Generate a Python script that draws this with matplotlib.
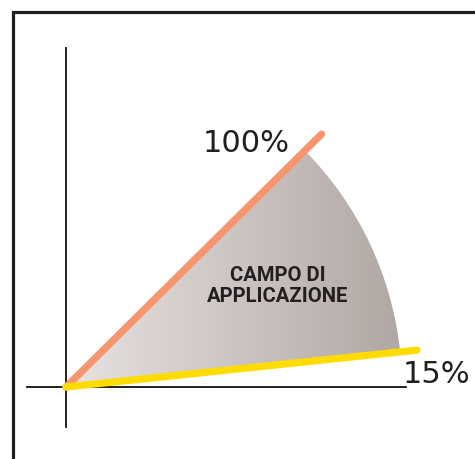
import numpy as np
import matplotlib.pyplot as plt
from matplotlib.patches import Wedge, Rectangle

# chart content
limit_labels = ['100%', '15%']
limit_angles = [44.7, 6.0]        # degrees from the horizontal axis
limit_lengths = [1.07, 1.05]      # relative to the field radius
limit_colors = ['#f6956e', '#ffdc00']
field_label = 'CAMPO DI\nAPPLICAZIONE'
field_radius = 1.0

W, H = 475, 459
ox, oy = 66, 387   # origin in pixels
r_px = 336.0

fig = plt.figure(figsize=(W / 100, H / 100), dpi=100)
ax = fig.add_axes([0, 0, 1, 1])
ax.set_xlim(-ox / r_px, (W - ox) / r_px)
ax.set_ylim(-(H - oy) / r_px, oy / r_px)
ax.axis('off')

# outer frame (only top and left edges visible)
fig.patches.append(Rectangle((13 / W, -0.2), 1.2, 1.2 - 12 / H,
                             transform=fig.transFigure, fill=False,
                             edgecolor='#231f20', linewidth=2.3))

# axes cross
ax.plot([0, 0], [-0.119, 1.009], color='#111111', lw=1.3, zorder=2)
ax.plot([-0.116, 1.012], [0, 0], color='#111111', lw=1.3, zorder=2)

# shaded sector with horizontal gradient
wedge = Wedge((0, 0), field_radius, min(limit_angles), max(limit_angles),
              facecolor='none', edgecolor='none')
ax.add_patch(wedge)
grad = np.linspace(0, 1, 256).reshape(1, -1)
c0 = np.array([0xe7, 0xe3, 0xe2]) / 255
c1 = np.array([0xb0, 0xa7, 0xa4]) / 255
img = c0[None, None, :] * (1 - grad[..., None]) + c1[None, None, :] * grad[..., None]
im = ax.imshow(img, extent=[0, field_radius, 0, field_radius], aspect='auto',
               interpolation='bilinear', zorder=1)
im.set_clip_path(wedge)

# limit lines
for ang, length, col, z in zip(limit_angles, limit_lengths, limit_colors, [3, 4]):
    a = np.radians(ang)
    ax.plot([0, length * np.cos(a)], [0, length * np.sin(a)], color=col,
            lw=5.2, solid_capstyle='round', zorder=z)

ax.text(0.408, 0.699, limit_labels[0], fontsize=22, color='#231f20',
        ha='left', va='baseline')
ax.text(1.003, 0.012, limit_labels[1], fontsize=22, color='#231f20',
        ha='left', va='baseline')
ax.text(0.631, 0.300, field_label, fontsize=14.6, color='#231f20',
        family=['Roboto', 'DejaVu Sans'], fontweight='bold',
        ha='center', va='center', linespacing=1.15)

fig.savefig('out.png', dpi=100)
